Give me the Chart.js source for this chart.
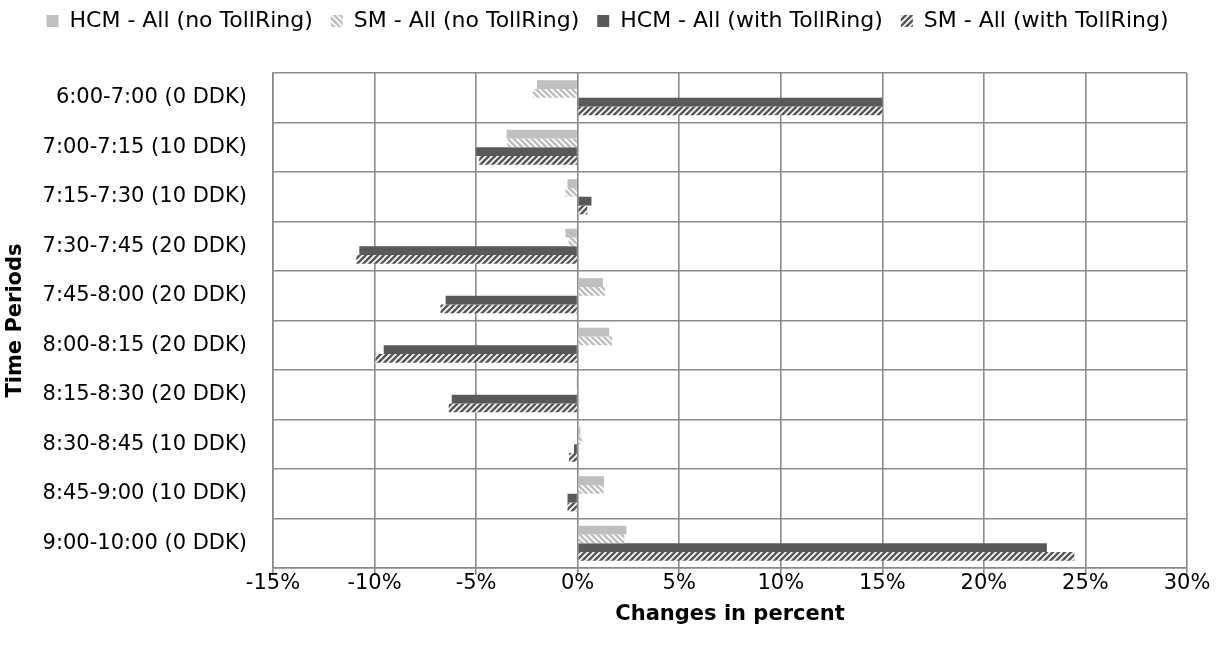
<!DOCTYPE html>
<html>
<head>
<meta charset="utf-8">
<script src="https://cdn.jsdelivr.net/npm/chart.js@4/dist/chart.umd.min.js"></script>
<style>
html,body{margin:0;padding:0;background:#fff;}
#wrap{width:1221px;height:657px;}
</style>
</head>
<body>
<div id="wrap"><canvas id="c" width="1221" height="657"></canvas></div>
<script>
const categories = [
  "6:00-7:00 (0 DDK)", "7:00-7:15 (10 DDK)", "7:15-7:30 (10 DDK)", "7:30-7:45 (20 DDK)",
  "7:45-8:00 (20 DDK)", "8:00-8:15 (20 DDK)", "8:15-8:30 (20 DDK)", "8:30-8:45 (10 DDK)",
  "8:45-9:00 (10 DDK)", "9:00-10:00 (0 DDK)"
];
const seriesNames = ["HCM - All (no TollRing)", "SM - All (no TollRing)", "HCM - All (with TollRing)", "SM - All (with TollRing)"];
const hcmNoToll   = [-2.0, -3.5, -0.5, -0.6, 1.25, 1.55, -0.05, 0.13, 1.3, 2.4];
const smNoToll    = [-2.2, -3.45, -0.6, -0.45, 1.35, 1.7, -0.03, 0.2, 1.28, 2.3];
const hcmWithToll = [15.0, -5.0, 0.68, -10.75, -6.5, -9.55, -6.2, -0.18, -0.5, 23.1];
const smWithToll  = [15.0, -4.85, 0.47, -10.9, -6.75, -9.95, -6.35, -0.43, -0.5, 24.45];
const xTicks = {min: -15, max: 30, step: 5};

function stripePattern(bg, fg, dir) {
  const s = 6;
  const cv = document.createElement('canvas');
  cv.width = s; cv.height = s;
  const g = cv.getContext('2d');
  g.fillStyle = bg; g.fillRect(0, 0, s, s);
  g.strokeStyle = fg; g.lineWidth = 1.6;
  g.beginPath();
  if (dir === 'down') {
    g.moveTo(-s, 0); g.lineTo(s, 2 * s);
    g.moveTo(0, 0); g.lineTo(s, s);
    g.moveTo(0, -s); g.lineTo(2 * s, s);
  } else {
    g.moveTo(0, s); g.lineTo(s, 0);
    g.moveTo(-s, s); g.lineTo(s, -s);
    g.moveTo(0, 2 * s); g.lineTo(2 * s, 0);
  }
  g.stroke();
  return g.createPattern(cv, 'repeat');
}
const ctx = document.getElementById('c').getContext('2d');
const light = '#bfbfbf', dark = '#595959';
const patLight = stripePattern(light, '#ffffff', 'down');
const patDark = stripePattern(dark, '#ffffff', 'up');

const FONT = "'DejaVu Sans', 'Open Sans', sans-serif";
const FS = 21;
const gridColor = '#8a8a8a';

const legendFix = {
  id: 'legendFix',
  beforeLayout(chart) {
    const lg = chart.legend;
    if (lg && !lg._fixed) {
      const origFit = lg.fit.bind(lg);
      lg.fit = function () { origFit(); this.height = 73; };
      const origDraw = lg.draw.bind(lg);
      lg.draw = function () {
        const c = this.ctx;
        c.save(); c.translate(14, -8); origDraw(); c.restore();
      };
      lg._fixed = true;
    }
  }
};

new Chart(ctx, {
  type: 'bar',
  data: {
    labels: categories,
    datasets: [
      {label: seriesNames[0], data: hcmNoToll, backgroundColor: light},
      {label: seriesNames[1], data: smNoToll, backgroundColor: patLight},
      {label: seriesNames[2], data: hcmWithToll, backgroundColor: dark},
      {label: seriesNames[3], data: smWithToll, backgroundColor: patDark}
    ]
  },
  options: {
    indexAxis: 'y',
    responsive: false,
    animation: false,
    devicePixelRatio: 1,
    datasets: {bar: {categoryPercentage: 0.71, barPercentage: 1.0, borderWidth: 0}},
    layout: {padding: {left: 0, right: 34, top: 0, bottom: 0}},
    plugins: {
      tooltip: {enabled: false},
      legend: {
        position: 'top',
        padding: 8,
        labels: {
          font: {family: FONT, size: 22},
          color: '#000',
          boxWidth: 12, boxHeight: 12,
          padding: 18
        }
      }
    },
    scales: {
      x: {
        type: 'linear',
        min: xTicks.min, max: xTicks.max,
        ticks: {
          stepSize: xTicks.step,
          callback: v => v + '%',
          font: {family: FONT, size: FS},
          color: '#000',
          padding: -4
        },
        grid: {color: gridColor, lineWidth: 1.6, tickLength: 7, tickColor: gridColor},
        border: {color: gridColor, width: 1.6},
        title: {
          display: true, text: 'Changes in percent',
          font: {family: FONT, size: FS, weight: 'bold'}, color: '#000',
          padding: {top: 8, bottom: 30}
        },
        afterFit(scale) { scale.height = 657 - 568; }
      },
      y: {
        type: 'category',
        offset: true,
        ticks: {
          font: {family: FONT, size: FS},
          color: '#000',
          padding: 26
        },
        grid: {color: gridColor, lineWidth: 1.6, offset: true, drawTicks: false},
        border: {color: gridColor, width: 1.6},
        title: {
          display: true, text: 'Time Periods',
          font: {family: FONT, size: FS, weight: 'bold'}, color: '#000',
          padding: {top: 3, bottom: 4}
        },
        afterFit(scale) { scale.width = 273; }
      }
    }
  },
  plugins: [legendFix]
});
</script>
</body>
</html>
